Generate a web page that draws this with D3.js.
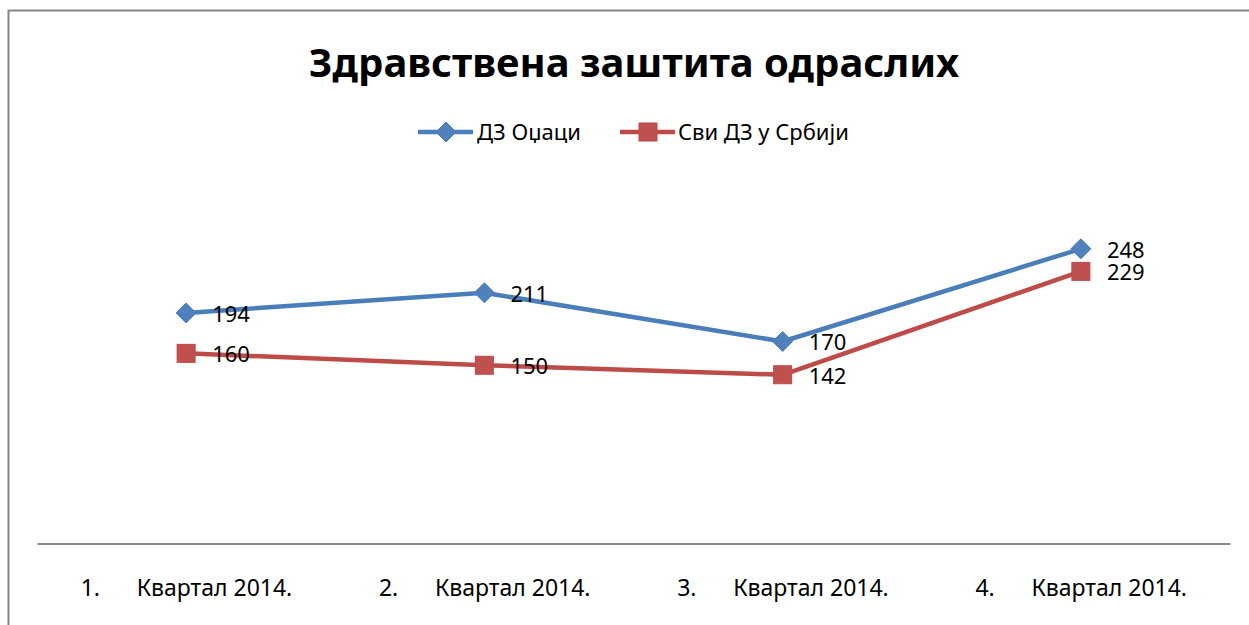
<!DOCTYPE html>
<html><head><meta charset="utf-8">
<script src="https://cdn.jsdelivr.net/npm/d3@7"></script>
<style>
body{margin:0;background:#fff;}
text{font-family:"Noto Sans","Open Sans",sans-serif;fill:#000;}
</style></head>
<body>
<svg id="c" width="1249" height="625"></svg>
<script>
const title = "Здравствена заштита одраслих";
const categoryNumbers = ["1.", "2.", "3.", "4."];
const categoryLabels = ["Квартал 2014.", "Квартал 2014.", "Квартал 2014.", "Квартал 2014."];
const seriesNames = ["ДЗ Оџаци", "Сви ДЗ у Србији"];
const seriesOdzaci = [194, 211, 170, 248];
const seriesSrbija = [160, 150, 142, 229];
const seriesColors = ["#4A7EBB", "#BE4B48"];
const markerColors = ["#4F81BD", "#C0504D"];

const svg = d3.select("#c");
// chart frame
svg.append("rect").attr("x", 8.5).attr("y", 10.5).attr("width", 1300).attr("height", 700)
  .attr("fill", "#fff").attr("stroke", "#868686").attr("stroke-width", 2);

const cats = categoryNumbers.map((n, i) => i);
const x = d3.scalePoint().domain(cats).range([37, 1230]).padding(0.5);
const y = d3.scaleLinear().domain([0, 300]).range([543.5, 187]);

// title
svg.append("text").attr("x", 634).attr("y", 77).attr("text-anchor", "middle")
  .style("font-size", "40px").style("font-weight", "bold").text(title);

// x axis
const axis = d3.axisBottom(x).tickSize(0).tickFormat(() => "");
const gAx = svg.append("g").attr("transform", `translate(0,${y(0)})`).call(axis);
gAx.select(".domain").attr("stroke", "#868686").attr("stroke-width", 2.2);
gAx.selectAll(".tick text").remove();
gAx.selectAll(".tick").each(function(d, i) {
  const t = d3.select(this).append("text").attr("y", 52.5)
    .attr("text-anchor", "start").style("font-size", "23px");
  t.append("tspan").attr("x", -106).text(categoryNumbers[i]);
  t.append("tspan").attr("x", -50).text(categoryLabels[i]);
});

const series = [seriesOdzaci, seriesSrbija];
const line = d3.line().x((d, i) => x(i)).y(d => y(d));

series.forEach((vals, s) => {
  svg.append("path").datum(vals).attr("d", line).attr("fill", "none")
    .attr("stroke", seriesColors[s]).attr("stroke-width", 4.5).attr("stroke-linejoin", "round");
});

function marker(g, s, cx, cy) {
  if (s === 0) {
    g.append("path").attr("d", `M${cx},${cy-10}L${cx+10},${cy}L${cx},${cy+10}L${cx-10},${cy}Z`)
      .attr("fill", markerColors[0]).attr("stroke", seriesColors[0]).attr("stroke-width", 1);
  } else {
    g.append("rect").attr("x", cx - 9).attr("y", cy - 9).attr("width", 18).attr("height", 18)
      .attr("fill", markerColors[1]).attr("stroke", seriesColors[1]).attr("stroke-width", 1);
  }
}

series.forEach((vals, s) => {
  const g = svg.append("g");
  vals.forEach((v, i) => marker(g, s, x(i), y(v)));
  g.selectAll("text.lbl").data(vals).join("text").attr("class", "lbl")
    .attr("x", (d, i) => x(i) + 26).attr("y", d => y(d) + 9)
    .style("font-size", "22px").text(d => d);
});

// legend
const leg = svg.append("g");
const legItems = [{x: 418, tx: 477}, {x: 620, tx: 678}];
legItems.forEach((it, s) => {
  leg.append("line").attr("x1", it.x).attr("x2", it.x + 55).attr("y1", 132).attr("y2", 132)
    .attr("stroke", seriesColors[s]).attr("stroke-width", 4.5);
  marker(leg, s, it.x + 28, 132);
  leg.append("text").attr("x", it.tx).attr("y", 140).style("font-size", "22px").text(seriesNames[s]);
});
</script>
</body></html>
